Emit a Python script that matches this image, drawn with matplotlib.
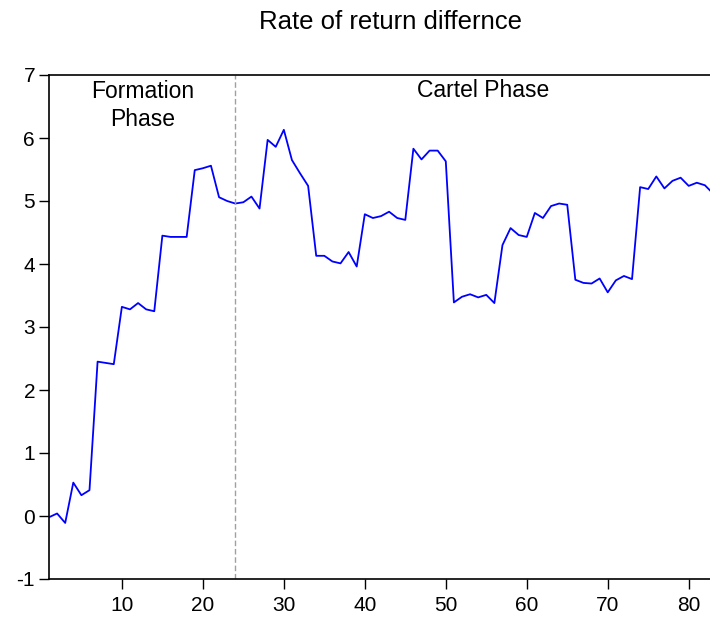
import matplotlib
matplotlib.use("Agg")
import matplotlib.pyplot as plt
import numpy as np

plt.rcParams["font.family"] = ["Liberation Sans", "DejaVu Sans"]

# observation index (1..83) and the plotted series
obs = np.arange(1, 84)
rate_diff = [
    -0.02, 0.04, -0.11, 0.53, 0.33, 0.41, 2.45, 2.43, 2.41, 3.32,
    3.28, 3.38, 3.28, 3.25, 4.45, 4.43, 4.43, 4.43, 5.49, 5.52,
    5.56, 5.06, 5.00, 4.96, 4.98, 5.07, 4.88, 5.97, 5.86, 6.13,
    5.65, 5.44, 5.24, 4.13, 4.13, 4.04, 4.01, 4.19, 3.96, 4.79,
    4.73, 4.76, 4.83, 4.73, 4.70, 5.83, 5.66, 5.80, 5.80, 5.63,
    3.39, 3.48, 3.52, 3.47, 3.51, 3.38, 4.30, 4.57, 4.46, 4.43,
    4.81, 4.73, 4.92, 4.96, 4.94, 3.75, 3.70, 3.69, 3.77, 3.55,
    3.74, 3.81, 3.76, 5.22, 5.19, 5.39, 5.20, 5.32, 5.37, 5.24,
    5.29, 5.25, 5.12,
]
phase_break = 24
xticks = [10, 20, 30, 40, 50, 60, 70, 80]
yticks = [-1, 0, 1, 2, 3, 4, 5, 6, 7]

fig = plt.figure(figsize=(7.10, 6.17), dpi=100)
# axes runs a little past the right edge, as in the cropped original
ax = fig.add_axes([49 / 710, 1 - 579 / 617, 664 / 710, (579 - 75) / 617])

ax.plot(obs, rate_diff, color="#0000ff", linewidth=1.3)
ax.axvline(phase_break, color="#a0a0a0", linestyle=(0, (4, 2)), linewidth=1.0)

ax.set_xlim(1, 83)
ax.set_ylim(-1, 7)
ax.set_xticks(xticks)
ax.set_yticks(yticks)
ax.set_yticklabels([str(t) for t in yticks])

ax.tick_params(axis="both", direction="out", length=7, width=1,
               labelsize=15, color="black")
ax.tick_params(axis="x", pad=5)
ax.tick_params(axis="y", pad=3)
for side in ["left", "bottom", "top"]:
    ax.spines[side].set_linewidth(1.2)
ax.spines["right"].set_visible(False)

ax.text(12.6, 6.52, "Formation\nPhase", ha="center", va="center",
        fontsize=16.5, linespacing=1.3)
ax.text(54.6, 6.76, "Cartel Phase", ha="center", va="center", fontsize=16.5)

fig.text(390 / 710, 1 - 22 / 617, "Rate of return differnce",
         ha="center", va="center", fontsize=18.5)

fig.savefig("out.png", dpi=100)
